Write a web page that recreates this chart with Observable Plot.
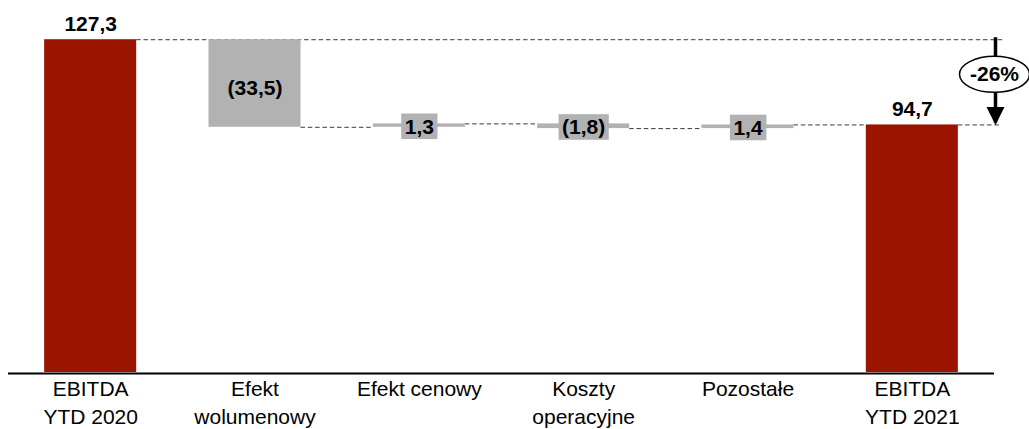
<!DOCTYPE html>
<html><head><meta charset="utf-8">
<script src="https://cdn.jsdelivr.net/npm/d3@7"></script>
<script src="https://cdn.jsdelivr.net/npm/@observablehq/plot@0.6"></script>
<style>html,body{margin:0;padding:0;background:#fff}</style>
</head><body><div id="chart"></div>
<script>
// ---- data ----
const categories = ["EBITDA\nYTD 2020", "Efekt\nwolumenowy", "Efekt cenowy", "Koszty\noperacyjne", "Pozostałe", "EBITDA\nYTD 2021"];
const values = [127.3, -33.5, 1.3, -1.8, 1.4, 94.7];
const kinds = ["total", "delta", "delta", "delta", "delta", "total"];

// ---- styling ----
const RED = "#9a1400", GRAY = "#b2b2b2", FONT = "Liberation Sans, Arial, Helvetica, sans-serif";
const fmt = v => { const s = Math.abs(v).toFixed(1).replace(".", ","); return v < 0 ? `(${s})` : s; };

// ---- waterfall build ----
let run = 0;
const rows = categories.map((c, i) => {
  let y1, y2;
  if (kinds[i] === "total") { y1 = 0; y2 = values[i]; }
  else { y1 = run; y2 = run + values[i]; }
  run = y2;
  return {i, cat: c, kind: kinds[i], value: values[i], y1, y2, mid: (y1 + y2) / 2, label: fmt(values[i])};
});
const half = 0.28;
const first = rows[0], last = rows[rows.length - 1];
const arrowX = rows.length - 0.5;
const connectors = [{x1: first.i + half, x2: arrowX + 0.05, y: first.y2}];
for (let k = 1; k < rows.length - 1; k++) connectors.push({x1: k + half, x2: k + 1 - half, y: rows[k].y2});
connectors.push({x1: last.i + half, x2: arrowX + 0.04, y: last.y2});

const totals = rows.filter(d => d.kind === "total");
const bigDeltas = rows.filter(d => d.kind === "delta" && Math.abs(d.value) >= 10);
const smallDeltas = rows.filter(d => d.kind === "delta" && Math.abs(d.value) < 10);
const pct = Math.round((last.value / first.value - 1) * 100);
const pctLabel = (pct > 0 ? "+" : "") + pct + "%";
const arrowData = [{x: arrowX, y1: first.y2, y2: last.y2, mid: (first.y2 + last.y2) / 2, label: pctLabel}];

const headSymbol = {draw(ctx) { ctx.moveTo(0, 0); ctx.lineTo(-9, -18); ctx.lineTo(9, -18); ctx.closePath(); }};
const ellipseSymbol = {draw(ctx) {
  const rx = 35, ry = 18, k = 0.5523;
  ctx.moveTo(rx, 0);
  ctx.bezierCurveTo(rx, ry * k, rx * k, ry, 0, ry);
  ctx.bezierCurveTo(-rx * k, ry, -rx, ry * k, -rx, 0);
  ctx.bezierCurveTo(-rx, -ry * k, -rx * k, -ry, 0, -ry);
  ctx.bezierCurveTo(rx * k, -ry, rx, -ry * k, rx, 0);
  ctx.closePath();
}};

const plot = Plot.plot({
  width: 1029, height: 429,
  marginTop: 0, marginBottom: 57, marginLeft: 8, marginRight: 35,
  style: {fontFamily: FONT, background: "white", overflow: "visible"},
  x: {domain: [-0.5, rows.length - 0.5], axis: null},
  y: {domain: [0, 142.3], axis: null},
  marks: [
    Plot.ruleY(connectors, {y: "y", x1: "x1", x2: "x2", stroke: "#3a3a3a", strokeWidth: 1, strokeDasharray: "4.5,2.8"}),
    Plot.rect(rows, {x1: d => d.i - half, x2: d => d.i + half, y1: "y1", y2: "y2", fill: d => d.kind === "total" ? RED : GRAY}),
    Plot.ruleY([0], {stroke: "#000", strokeWidth: 2, dy: 1}),
    Plot.text(totals, {x: "i", y: "y2", text: "label", lineAnchor: "bottom", dy: -9, fontSize: 21, fontWeight: "bold", fill: "#000"}),
    Plot.text(bigDeltas, {x: "i", y: "mid", text: "label", lineAnchor: "middle", dy: 5, fontSize: 21, fontWeight: "bold", fill: "#000"}),
    Plot.text(smallDeltas, {x: "i", y: "mid", text: "label", lineAnchor: "middle", dy: 1.5, fontSize: 21, fontWeight: "bold", fill: "#000", ariaDescription: "boxed"}),
    Plot.text(rows, {x: "i", y: () => 0, text: "cat", lineAnchor: "top", dy: 3, lineHeight: 1.36, fontSize: 21, fill: "#000"}),
    Plot.ruleX(arrowData, {x: "x", y1: "y1", y2: "y2", stroke: "#000", strokeWidth: 3.5, dx: 1, dy: -2}),
    Plot.dot(arrowData, {x: "x", y: "y2", symbol: headSymbol, fill: "#000", stroke: "none", dx: 1}),
    Plot.dot(arrowData, {x: "x", y: "mid", symbol: ellipseSymbol, fill: "#fff", stroke: "#000", strokeWidth: 1.5, dy: -8}),
    Plot.text(arrowData, {x: "x", y: "mid", text: "label", lineAnchor: "middle", dy: -8, fontSize: 21, fontWeight: "bold", fill: "#000"})
  ]
});
document.getElementById("chart").append(plot);

// gray boxes behind small delta labels, sized from the rendered text
let boxed = plot.querySelectorAll('g[aria-description="boxed"] text');
if (!boxed.length) {
  const set = new Set(smallDeltas.map(d => d.label));
  boxed = [...plot.querySelectorAll("text")].filter(t => set.has(t.textContent));
}
boxed.forEach(t => {
  const b = t.getBBox();
  const r = document.createElementNS("http://www.w3.org/2000/svg", "rect");
  r.setAttribute("x", b.x - 3.5);
  r.setAttribute("y", b.y - 1.3);
  r.setAttribute("width", b.width + 7);
  r.setAttribute("height", b.height + 2.6);
  r.setAttribute("fill", GRAY);
  r.setAttribute("stroke", "none");
  const tr = t.getAttribute("transform");
  if (tr) r.setAttribute("transform", tr);
  t.parentNode.insertBefore(r, t);
});
</script>
</body></html>
